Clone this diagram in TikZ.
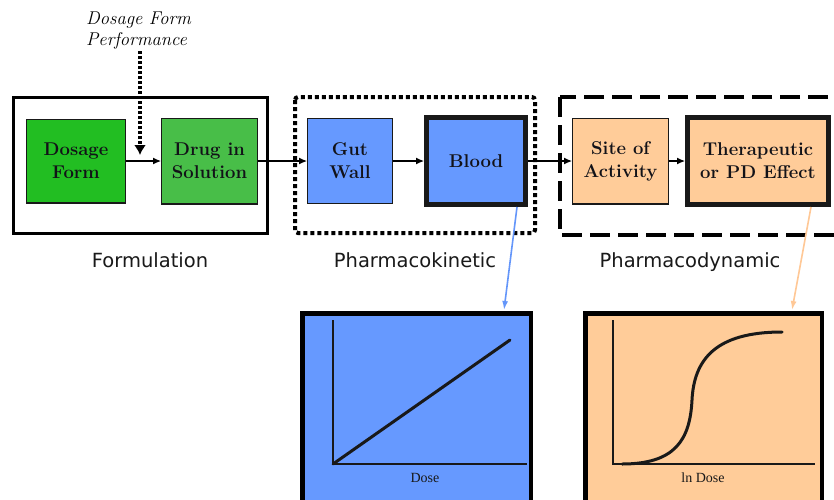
\documentclass[tikz,border=0pt]{standalone}
\usepackage{fontspec}
\usetikzlibrary{arrows.meta,calc}
\newfontfamily\lblfont{DejaVu Sans}
\newfontfamily\plotfont{Liberation Serif}
\definecolor{gDark}{RGB}{34,190,34}
\definecolor{gLight}{RGB}{72,190,72}
\definecolor{bBox}{RGB}{102,153,255}
\definecolor{oBox}{RGB}{255,204,153}
\definecolor{bluec}{RGB}{100,150,250}
\definecolor{orangec}{RGB}{255,200,150}
\definecolor{txtc}{RGB}{18,18,24}
\begin{document}
\begin{tikzpicture}[x=1pt,y=-1pt,
  thinbox/.style={draw=black!90, line width=1.4pt, align=center, text=txtc, inner sep=0pt,
    font=\fontsize{18.5}{23}\selectfont\bfseries},
  thickbox/.style={thinbox, line width=5pt},
  flow/.style={line width=1.2pt, -{Latex[length=8pt,width=7pt]}},
  grplabel/.style={anchor=base, font=\lblfont\fontsize{19.5}{22}\selectfont, text=black!90},
  plotbox/.style={draw=black, line width=4.5pt, inner sep=0pt, minimum height=194.5pt},
  axis/.style={line width=1.5pt, black!90},
  curve/.style={line width=3pt, black!90, line cap=round},
  axlabel/.style={font=\plotfont\fontsize{14}{16}\selectfont, text=black!90}
]
\useasboundingbox (0,0) rectangle (834,499);
\clip (0,0) rectangle (834,499);
\fill[white] (0,0) rectangle (834,499);

% group frames
\draw[line width=3pt] (13,97) rectangle (267,233);
\draw[line width=4pt, dash pattern=on 4pt off 3pt, rounded corners=3pt] (295,97) rectangle (535,233);
\draw[line width=4pt, dash pattern=on 20pt off 8pt] (560,97) rectangle (850,235);

% process boxes
\node[thinbox, fill=gDark, minimum width=98.6pt, minimum height=83.6pt] (df) at (76,161) {Dosage\\Form};
\node[thinbox, fill=gLight, minimum width=95.6pt, minimum height=85.6pt] (ds) at (209.5,161) {Drug in\\Solution};
\node[thinbox, fill=bBox, minimum width=84.6pt, minimum height=84.6pt] (gw) at (350,161) {Gut\\Wall};
\node[thickbox, fill=bBox, minimum width=99pt, minimum height=87pt] (bl) at (476,161) {Blood};
\node[thinbox, fill=oBox, minimum width=95.6pt, minimum height=85.6pt] (sa) at (620.5,161) {Site of\\Activity};
\node[thickbox, fill=oBox, minimum width=141pt, minimum height=87pt] (te) at (758,161) {Therapeutic\\or PD Effect};

% flow arrows
\draw[flow] (df) -- (ds);
\draw[flow] (ds) -- (gw);
\draw[flow] (gw) -- (bl);
\draw[flow] (bl) -- (sa);
\draw[flow] (sa) -- (te);

% dosage form performance
\node[anchor=north west, align=left, inner sep=0pt, text=black,
  font=\fontsize{18.5}{21}\selectfont\itshape] (dfp) at (86,12) {Dosage Form\\Performance};
\coordinate (dfs) at (140,51);
\coordinate (dfe) at (140,155);
\draw[line width=4pt, dash pattern=on 3pt off 2pt, -{Latex[length=10pt,width=12pt]}] (dfs) -- (dfe);

% group labels
\node[grplabel] (lf) at (150,267) {Formulation};
\node[grplabel] (lk) at (415,267) {Pharmacokinetic};
\node[grplabel] (ld) at (690,267) {Pharmacodynamic};

% plot boxes
\node[plotbox, fill=bBox, minimum width=228.5pt] (pkp) at (416.5,410.5) {};
\node[plotbox, fill=oBox, minimum width=236.5pt] (pdp) at (703.5,410.5) {};

% connectors to plots
\draw[bluec, line width=1.6pt, -{Latex[length=9pt,width=6pt]}]
  ($(bl.south east)+(-11,0)$) -- ($(pkp.north east)+(-29,-1)$);
\draw[orangec, line width=1.6pt, -{Latex[length=9pt,width=6pt]}]
  ($(te.south east)+(-20,0)$) -- ($(pdp.north east)+(-32,-1)$);

% PK plot
\draw[axis] (333,320) -- (333,464) -- (527,464);
\draw[curve] (333,464) -- (510,340);
\node[axlabel] (xk) at (425,478) {Dose};

% PD plot
\draw[axis] (613,320) -- (613,464) -- (815,464);
\draw[curve] (622,464) .. controls (675,464) and (690,440) .. (692,400)
  .. controls (694,360) and (715,332) .. (782,332);
\node[axlabel] (xd) at (703,478) {ln Dose};
\end{tikzpicture}
\end{document}
